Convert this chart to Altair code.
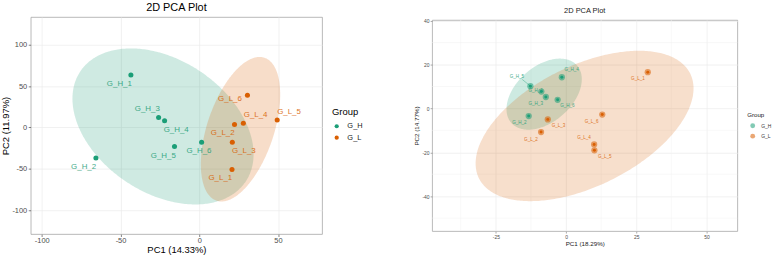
import numpy as np
import pandas as pd
import altair as alt

FONT = "Liberation Sans"
GREEN = "#1b9e77"
ORANGE = "#d95f02"
groups = ["G_H", "G_L"]

names_H = ["G_H_1", "G_H_2", "G_H_3", "G_H_4", "G_H_5", "G_H_6"]
names_L = ["G_L_1", "G_L_2", "G_L_3", "G_L_4", "G_L_5", "G_L_6"]

# ---- left plot: PC1 (14.33%) / PC2 (11.97%) ----
a_pc1_H = [-43.4, -65.6, -25.8, -22.0, -15.7, 1.5]
a_pc2_H = [63.5, -37.0, 12.0, 8.0, -23.0, -18.0]
a_pc1_L = [20.8, 22.4, 21.0, 28.0, 49.5, 30.6]
a_pc2_L = [-51.0, 3.6, -18.0, 5.0, 9.0, 39.0]
a_lab1_H = [-50.7, -73.4, -33.0, -14.6, -22.8, -0.2]
a_lab2_H = [53.0, -47.6, 22.4, -2.8, -34.4, -28.8]
a_lab1_L = [13.4, 14.9, 28.3, 35.8, 57.0, 19.5]
a_lab2_L = [-61.5, -7.2, -29.0, 15.6, 19.0, 34.8]
# confidence ellipses: centre x, centre y, x half-width, y shift at x-extreme, y spread
a_ell_H = [-23.0, 1.2, 57.5, -33.6, 88.2]
a_ell_L = [26.2, -2.2, 25.2, 42.0, 76.7]
a_xticks = [-100, -50, 0, 50]
a_yticks = [-100, -50, 0, 50, 100]

# ---- right plot: PC1 (18.29%) / PC2 (14.77%) ----
b_pc1_H = [-8.8, -13.3, -7.2, -1.5, -12.7, -3.0]
b_pc2_H = [7.7, -3.5, 5.2, 14.2, 10.1, 3.9]
b_pc1_L = [29.1, -8.9, -6.5, 10.0, 10.1, 12.9]
b_pc2_L = [16.5, -10.8, -5.0, -16.4, -19.1, -2.8]
b_lab1_H = [-10.8, -16.6, -10.8, 2.0, -17.5, 0.5]
b_lab2_H = [7.9, -6.7, 2.0, 17.3, 14.3, 1.0]
b_lab1_L = [25.6, -12.5, -2.7, 6.4, 13.8, 9.1]
b_lab2_L = [13.2, -14.2, -8.2, -13.3, -22.3, -6.0]
b_ell_H = [-7.8, 6.5, 13.4, 6.8, 14.7]
b_ell_L = [6.6, -8.0, 38.8, 17.1, 29.7]
b_xticks = [-25, 0, 25, 50]
b_yticks = [-40, -20, 0, 20, 40]
b_xminor = [-37.5, -12.5, 12.5, 37.5]
b_yminor = [-50, -30, -10, 10, 30]
# repel segment for G_H_5 label
b_seg = [-15.6, 13.2, -12.7, 10.2]


def points_df(p1H, p2H, p1L, p2L, l1H, l2H, l1L, l2L):
    return pd.DataFrame({
        "name": names_H + names_L,
        "group": ["G_H"] * 6 + ["G_L"] * 6,
        "pc1": p1H + p1L,
        "pc2": p2H + p2L,
        "lx": l1H + l1L,
        "ly": l2H + l2L,
    })


def ellipse_df(p):
    cx, cy, w, k, h = p
    t = np.linspace(0, np.pi, 181)
    return pd.DataFrame({
        "x": cx + w * np.cos(t),
        "ylo": cy + k * np.cos(t) - h * np.sin(t),
        "yhi": cy + k * np.cos(t) + h * np.sin(t),
    })


cscale = alt.Scale(domain=groups, range=[GREEN, ORANGE])

# ================= LEFT =================
dfa = points_df(a_pc1_H, a_pc2_H, a_pc1_L, a_pc2_L, a_lab1_H, a_lab2_H, a_lab1_L, a_lab2_L)
xs_a = alt.Scale(domain=[-107, 78], nice=False, zero=False)
ys_a = alt.Scale(domain=[-129, 133.6], nice=False, zero=False)

ax_a = alt.Axis(values=a_xticks, title="PC1 (14.33%)", grid=True, gridColor="#ebebeb",
                gridWidth=0.7, domain=False, tickColor="#333333", tickSize=2.5, tickWidth=0.6,
                labelFontSize=7.5, labelColor="#4d4d4d", labelPadding=0.5,
                labelExpr="'' + datum.value", titleFontSize=9.5, titleColor="#000000",
                titleFontWeight="normal", titlePadding=0.5)
ay_a = alt.Axis(values=a_yticks, title="PC2 (11.97%)", grid=True, gridColor="#ebebeb",
                gridWidth=0.7, domain=False, tickColor="#333333", tickSize=2.5, tickWidth=0.6,
                labelFontSize=7.5, labelColor="#4d4d4d", labelPadding=1.5,
                labelExpr="'' + datum.value", titleFontSize=9.5, titleColor="#000000",
                titleFontWeight="normal", titlePadding=1)


def ell_layer(p, color, xs, ys, ax, ay, op):
    return alt.Chart(ellipse_df(p)).mark_area(color=color, opacity=op).encode(
        x=alt.X("x:Q", scale=xs, axis=ax),
        y=alt.Y("ylo:Q", scale=ys, axis=ay, stack=None),
        y2="yhi:Q",
    )


a_e1 = ell_layer(a_ell_H, GREEN, xs_a, ys_a, ax_a, ay_a, 0.21)
a_e2 = ell_layer(a_ell_L, ORANGE, xs_a, ys_a, ax_a, ay_a, 0.21)

a_pts = alt.Chart(dfa).mark_circle(size=26, opacity=1).encode(
    x=alt.X("pc1:Q", scale=xs_a),
    y=alt.Y("pc2:Q", scale=ys_a),
    color=alt.Color("group:N", scale=cscale, legend=alt.Legend(
        title="Group", orient="none", legendX=304, legendY=91, padding=0,
        titleFontSize=9.5, titleFontWeight="normal", titleColor="#000000",
        labelFontSize=7.5, labelColor="#1a1a1a", symbolType="circle", symbolSize=18,
        titlePadding=6, rowPadding=2.5, labelOffset=7, symbolOffset=1)),
)
a_txt = alt.Chart(dfa).mark_text(fontSize=8, align="center", baseline="middle", opacity=0.85).encode(
    x=alt.X("lx:Q", scale=xs_a),
    y=alt.Y("ly:Q", scale=ys_a),
    text="name:N",
    color=alt.Color("group:N", scale=cscale, legend=None),
)

left = alt.layer(a_e1, a_e2, a_pts, a_txt).properties(
    width=294, height=219,
    title=alt.TitleParams("2D PCA Plot", fontSize=11, fontWeight="normal", color="#000000",
                          anchor="middle", offset=4),
)

# ================= RIGHT =================
dfb = points_df(b_pc1_H, b_pc2_H, b_pc1_L, b_pc2_L, b_lab1_H, b_lab2_H, b_lab1_L, b_lab2_L)
xs_b = alt.Scale(domain=[-47.7, 61], nice=False, zero=False)
ys_b = alt.Scale(domain=[-55.9, 40.3], nice=False, zero=False)

ax_b = alt.Axis(values=b_xticks, title="PC1 (18.29%)", grid=True, gridColor="#ebebeb",
                gridWidth=0.7, domain=False, tickColor="#555555", tickSize=2, tickWidth=0.5,
                labelFontSize=5, labelColor="#4d4d4d", labelPadding=1,
                labelExpr="'' + datum.value", titleFontSize=6.3, titleColor="#222222",
                titleFontWeight="normal", titlePadding=1.5)
ay_b = alt.Axis(values=b_yticks, title="PC2 (14.77%)", grid=True, gridColor="#ebebeb",
                gridWidth=0.7, domain=False, tickColor="#555555", tickSize=2, tickWidth=0.5,
                labelFontSize=5, labelColor="#4d4d4d", labelPadding=1,
                labelExpr="'' + datum.value", titleFontSize=6.3, titleColor="#222222",
                titleFontWeight="normal", titlePadding=2)

b_gx = alt.Chart(pd.DataFrame({"v": b_xminor})).mark_rule(color="#f0f0f0", strokeWidth=0.5).encode(
    x=alt.X("v:Q", scale=xs_b, axis=ax_b))
b_gy = alt.Chart(pd.DataFrame({"v": b_yminor})).mark_rule(color="#f0f0f0", strokeWidth=0.5).encode(
    y=alt.Y("v:Q", scale=ys_b, axis=ay_b))

b_e1 = ell_layer(b_ell_H, GREEN, xs_b, ys_b, ax_b, ay_b, 0.22)
b_e2 = ell_layer(b_ell_L, ORANGE, xs_b, ys_b, ax_b, ay_b, 0.2)

b_halo = alt.Chart(dfb).mark_circle(size=40, opacity=0.55).encode(
    x=alt.X("pc1:Q", scale=xs_b),
    y=alt.Y("pc2:Q", scale=ys_b),
    color=alt.Color("group:N", scale=cscale, legend=alt.Legend(
        title="Group", orient="none", legendX=318, legendY=93, padding=0,
        titleFontSize=6.2, titleFontWeight="normal", titleColor="#222222",
        labelFontSize=5, labelColor="#333333", symbolType="circle", symbolSize=24,
        titlePadding=4, rowPadding=3.5, labelOffset=5, symbolOffset=2)),
)
b_core = alt.Chart(dfb).mark_circle(size=9, opacity=1).encode(
    x=alt.X("pc1:Q", scale=xs_b),
    y=alt.Y("pc2:Q", scale=ys_b),
    color=alt.Color("group:N", scale=cscale, legend=None),
)
b_segm = alt.Chart(pd.DataFrame({"x": [b_seg[0]], "y": [b_seg[1]], "x2": [b_seg[2]], "y2": [b_seg[3]]})).mark_rule(
    color=GREEN, strokeWidth=0.5, opacity=0.8).encode(
    x=alt.X("x:Q", scale=xs_b), y=alt.Y("y:Q", scale=ys_b), x2="x2:Q", y2="y2:Q")
b_txt = alt.Chart(dfb).mark_text(fontSize=4.6, align="center", baseline="middle", opacity=0.85).encode(
    x=alt.X("lx:Q", scale=xs_b),
    y=alt.Y("ly:Q", scale=ys_b),
    text="name:N",
    color=alt.Color("group:N", scale=cscale, legend=None),
)

right = alt.layer(b_gx, b_gy, b_e1, b_e2, b_halo, b_core, b_segm, b_txt).properties(
    width=308, height=213,
    title=alt.TitleParams("2D PCA Plot", fontSize=7.5, fontWeight="normal", color="#222222",
                          anchor="middle", offset=4),
)

chart = alt.hconcat(left, right, spacing=111, bounds="flush", center=True).resolve_scale(
    color="independent").resolve_legend(color="independent").properties(
    padding={"left": 0, "top": 0, "right": 2, "bottom": 0},
).configure(font=FONT).configure_view(stroke="#a6a6a6", strokeWidth=0.8)

chart.save("out.html", embed_options={"renderer": "svg", "actions": False})
